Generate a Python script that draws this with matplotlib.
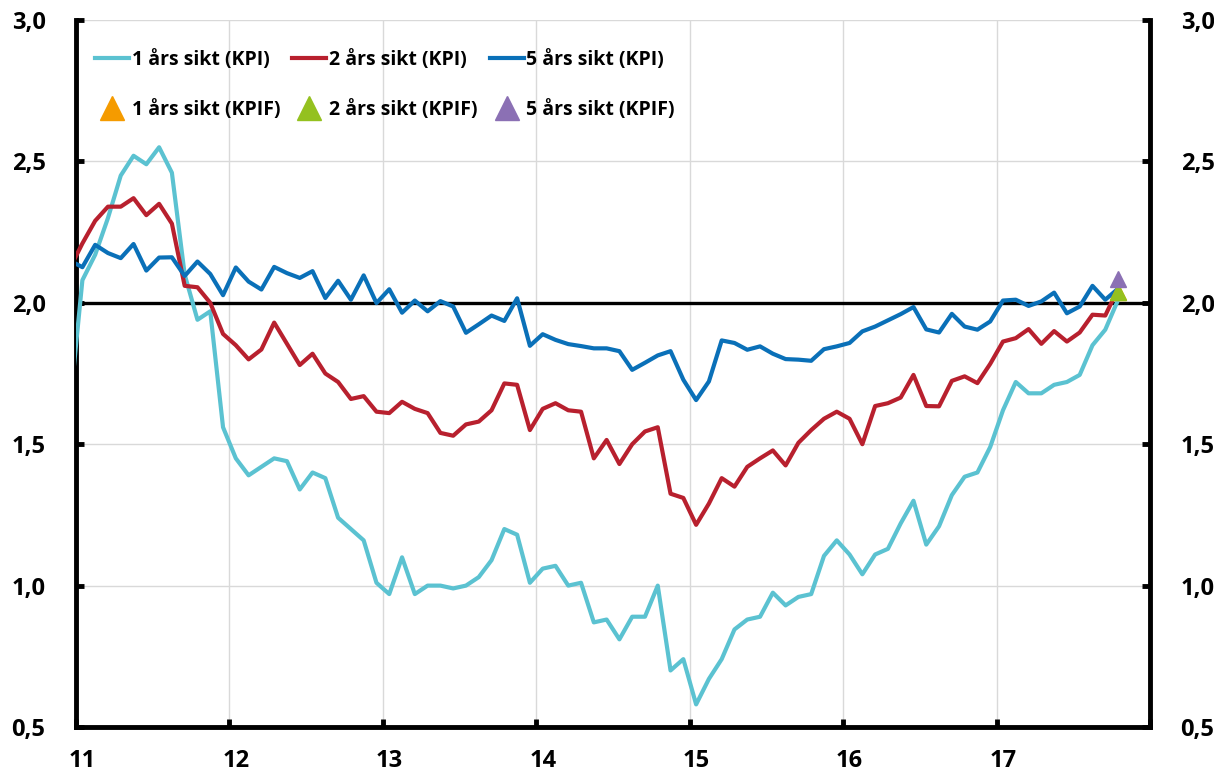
import matplotlib.pyplot as plt
import numpy as np
import pandas as pd

# Monthly survey data, Dec 2010 .. Oct 2017 (first point is cut by the left edge)
START_MONTH = '2010-12'

kpi_1y = [1.62,
          2.08, 2.17, 2.30, 2.45, 2.52, 2.49, 2.55, 2.46, 2.10, 1.94, 1.97, 1.56,
          1.45, 1.39, 1.42, 1.45, 1.44, 1.34, 1.40, 1.38, 1.24, 1.20, 1.16, 1.01,
          0.97, 1.10, 0.97, 1.00, 1.00, 0.99, 1.00, 1.03, 1.09, 1.20, 1.18, 1.01,
          1.06, 1.07, 1.00, 1.01, 0.87, 0.88, 0.81, 0.89, 0.89, 1.00, 0.70, 0.74,
          0.58, 0.67, 0.74, 0.845, 0.88, 0.89, 0.975, 0.93, 0.96, 0.97, 1.105, 1.16,
          1.11, 1.04, 1.11, 1.13, 1.22, 1.30, 1.145, 1.21, 1.32, 1.385, 1.40, 1.49,
          1.62, 1.72, 1.68, 1.68, 1.71, 1.72, 1.745, 1.85, 1.905, 2.01]

kpi_2y = [2.12,
          2.21, 2.29, 2.34, 2.34, 2.37, 2.31, 2.35, 2.28, 2.06, 2.055, 2.00, 1.89,
          1.85, 1.80, 1.835, 1.93, 1.855, 1.78, 1.82, 1.75, 1.72, 1.66, 1.67, 1.615,
          1.61, 1.65, 1.625, 1.61, 1.54, 1.53, 1.57, 1.58, 1.62, 1.715, 1.71, 1.55,
          1.625, 1.645, 1.62, 1.615, 1.45, 1.515, 1.43, 1.50, 1.545, 1.56, 1.325, 1.31,
          1.215, 1.29, 1.38, 1.35, 1.42, 1.45, 1.478, 1.425, 1.505, 1.55, 1.59, 1.615,
          1.59, 1.50, 1.635, 1.645, 1.665, 1.745, 1.635, 1.634, 1.724, 1.74, 1.716, 1.784,
          1.863, 1.875, 1.907, 1.855, 1.90, 1.863, 1.895, 1.958, 1.955, 2.05]

kpi_5y = [2.15,
          2.126, 2.205, 2.176, 2.158, 2.208, 2.114, 2.16, 2.161, 2.095, 2.146, 2.102, 2.027,
          2.125, 2.075, 2.047, 2.127, 2.105, 2.088, 2.112, 2.017, 2.078, 2.011, 2.097, 1.999,
          2.048, 1.965, 2.008, 1.97, 2.006, 1.987, 1.894, 1.924, 1.955, 1.936, 2.016, 1.848,
          1.889, 1.869, 1.854, 1.847, 1.839, 1.839, 1.829, 1.763, 1.788, 1.814, 1.829, 1.728,
          1.656, 1.722, 1.867, 1.858, 1.834, 1.846, 1.82, 1.801, 1.799, 1.795, 1.836, 1.846,
          1.858, 1.899, 1.916, 1.938, 1.96, 1.985, 1.906, 1.895, 1.961, 1.916, 1.905, 1.934,
          2.008, 2.011, 1.989, 2.005, 2.036, 1.963, 1.987, 2.06, 2.011, 2.05]

# KPIF expectations, only the latest month
kpif_month = '2017-10'
kpif_1y = [2.04]
kpif_2y = [2.04]
kpif_5y = [2.085]

labels_kpi = ['1 års sikt (KPI)', '2 års sikt (KPI)', '5 års sikt (KPI)']
labels_kpif = ['1 års sikt (KPIF)', '2 års sikt (KPIF)', '5 års sikt (KPIF)']
year_labels = ['11', '12', '13', '14', '15', '16', '17']
y_ticks = [0.5, 1.0, 1.5, 2.0, 2.5, 3.0]

C_CYAN = '#5bc2d1'
C_RED = '#b8202e'
C_BLUE = '#0a70b8'
C_ORANGE = '#f59b00'
C_GREEN = '#94c11f'
C_PURPLE = '#8b70b4'
GRID = '#d9d9d9'

plt.rcParams['font.family'] = ['Open Sans', 'DejaVu Sans']
plt.rcParams['font.weight'] = 'bold'


def to_x(dates):
    # years since 2000, points sit in the middle of their month
    return dates.year - 2000 + (dates.month - 1 + 0.5) / 12


dates = pd.date_range(START_MONTH, periods=len(kpi_1y), freq='MS')
x = to_x(dates)
x_kpif = to_x(pd.DatetimeIndex([kpif_month]))

fig = plt.figure(figsize=(12.14, 7.73), dpi=100)
ax = fig.add_axes([0.0626, 0.0595, 0.8847, 0.9146])

ax.axhline(2.0, color='black', linewidth=2.4, zorder=2)

lw = 3.0
h1, = ax.plot(x, kpi_1y, color=C_CYAN, lw=lw, zorder=3, label=labels_kpi[0])
h2, = ax.plot(x, kpi_2y, color=C_RED, lw=lw, zorder=3, label=labels_kpi[1])
h3, = ax.plot(x, kpi_5y, color=C_BLUE, lw=lw, zorder=3, label=labels_kpi[2])

ms = 11
t1, = ax.plot(x_kpif, kpif_1y, '^', color=C_ORANGE, ms=ms, ls='none', zorder=4, label=labels_kpif[0])
t2, = ax.plot(x_kpif, kpif_2y, '^', color=C_GREEN, ms=ms, ls='none', zorder=5, label=labels_kpif[1])
t3, = ax.plot(x_kpif, kpif_5y, '^', color=C_PURPLE, ms=ms, ls='none', zorder=6, label=labels_kpif[2])

ax.set_xlim(11, 18)
ax.set_ylim(0.5, 3.0)

# year boundaries carry tick marks and grid, labels sit on January
ax.set_xticks(np.arange(11, 19))
ax.set_xticklabels([])
ax.set_xticks([int(y) + 0.5 / 12 for y in year_labels], minor=True)
ax.set_xticklabels(year_labels, minor=True, fontweight='bold')
ax.tick_params(axis='x', which='major', direction='in', length=6, width=3.5, bottom=True, top=False)
ax.tick_params(axis='x', which='minor', length=0, pad=16, labelsize=17)

ax.set_yticks(y_ticks)
ax.set_yticklabels([f'{v:.1f}'.replace('.', ',') for v in y_ticks], fontweight='bold')
ax.tick_params(axis='y', direction='in', length=6, width=3.5, left=True, right=True,
               labelleft=True, labelright=True, pad=22, labelsize=17)
for t in ax.yaxis.get_major_ticks():
    t.label1.set_fontweight('bold')
    t.label2.set_fontweight('bold')

ax.grid(True, which='major', color=GRID, linewidth=1, zorder=0)
ax.set_axisbelow(True)

for side in ['left', 'right', 'bottom']:
    ax.spines[side].set_linewidth(3.5)
    ax.spines[side].set_color('black')
ax.spines['top'].set_visible(False)

# order handles so rows read KPI / KPIF
handles = [h1, t1, h2, t2, h3, t3]
ax.legend(handles=handles, labels=[h.get_label() for h in handles], ncol=3,
          loc='upper left', bbox_to_anchor=(0.018, 0.958), frameon=False,
          prop={'size': 14, 'weight': 'bold'}, handlelength=1.75, handletextpad=0.15,
          columnspacing=0.6, labelspacing=1.55, borderpad=0, borderaxespad=0,
          markerscale=1.6)

fig.savefig('out.png', dpi=100)
